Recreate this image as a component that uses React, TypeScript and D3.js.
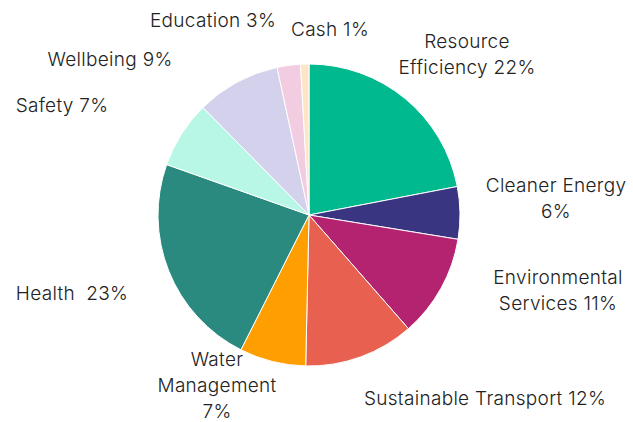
import React, { useEffect, useRef } from "react";
import * as d3 from "d3";

// slice order: clockwise from 12 o'clock
const categories = [
  "Resource Efficiency",
  "Cleaner Energy",
  "Environmental Services",
  "Sustainable Transport",
  "Water Management",
  "Health",
  "Safety",
  "Wellbeing",
  "Education",
  "Cash",
];
const shares = [22, 5.6, 11, 11.8, 7.1, 23, 7.2, 9, 2.5, 0.9];
const labelLines = [
  ["Resource", "Efficiency 22%"],
  ["Cleaner Energy", "6%"],
  ["Environmental", "Services 11%"],
  ["Sustainable Transport 12%"],
  ["Water", "Management", "7%"],
  ["Health  23%"],
  ["Safety 7%"],
  ["Wellbeing 9%"],
  ["Education 3%"],
  ["Cash 1%"],
];
const colors = [
  "#00b98e",
  "#3a3581",
  "#b3236f",
  "#e8604f",
  "#ff9e00",
  "#2a8a7f",
  "#b8f6e6",
  "#d4d1ec",
  "#f2cce1",
  "#fde5c8",
];
// where each label block sits (centre x, first baseline y)
const labelAnchors = [
  [467, 48],
  [556, 192],
  [558, 284],
  [485, 405],
  [217, 366],
  [72, 300],
  [62, 112],
  [110, 66],
  [213, 27],
  [330, 36],
];

const width = 633;
const height = 422;
const cx = 309;
const cy = 215;
const radius = 151;

export default function App() {
  const ref = useRef<SVGSVGElement>(null);

  useEffect(() => {
    const svg = d3.select(ref.current);
    svg.selectAll("*").remove();

    const data = categories.map((c, i) => ({ label: c, value: shares[i], i }));
    const pie = d3
      .pie<any>()
      .sort(null)
      .value((d) => d.value);
    const arc = d3.arc<any>().innerRadius(0).outerRadius(radius);
    const color = d3.scaleOrdinal<string>().domain(categories).range(colors);

    const g = svg.append("g").attr("transform", `translate(${cx},${cy})`);
    g.selectAll("path")
      .data(pie(data))
      .enter()
      .append("path")
      .attr("d", arc)
      .attr("fill", (d) => color(d.data.label))
      .attr("stroke", "#ffffff")
      .attr("stroke-width", 1);

    const labels = svg
      .selectAll("text.lbl")
      .data(data)
      .enter()
      .append("text")
      .attr("class", "lbl")
      .attr("text-anchor", "middle")
      .attr("font-family", "Inter, 'Noto Sans', sans-serif")
      .attr("font-size", 19)
      .attr("font-weight", 300)
      .attr("letter-spacing", 0.3)
      .attr("fill", "#222222")
      .attr("x", (d) => labelAnchors[d.i][0])
      .attr("y", (d) => labelAnchors[d.i][1]);

    labels.each(function (d) {
      const t = d3.select(this);
      labelLines[d.i].forEach((line, k) => {
        t.append("tspan")
          .attr("x", labelAnchors[d.i][0])
          .attr("dy", k === 0 ? 0 : 26)
          .style("white-space", "pre")
          .text(line);
      });
    });
  }, []);

  return (
    <svg
      ref={ref}
      width={width}
      height={height}
      style={{ position: "absolute", left: 0, top: 0, background: "#fff" }}
    />
  );
}
